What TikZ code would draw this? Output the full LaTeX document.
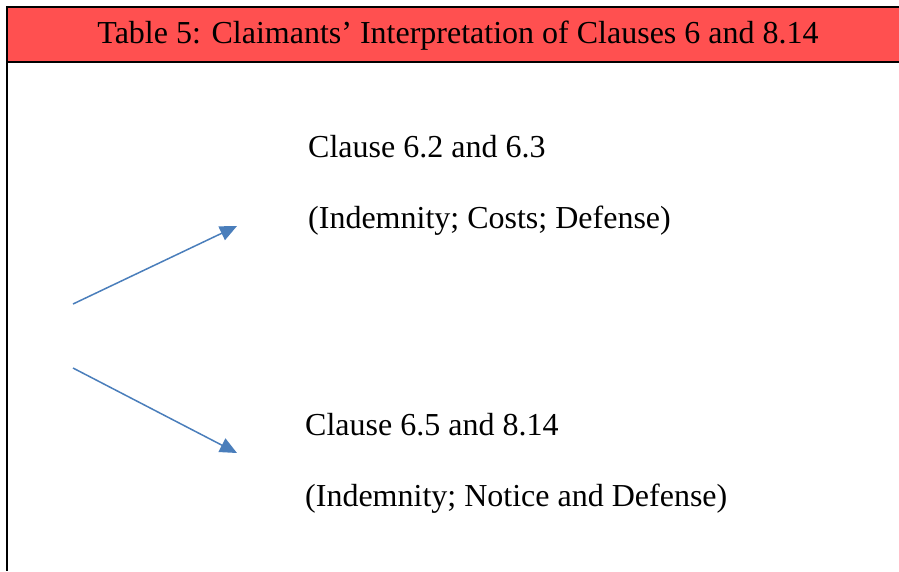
\documentclass[tikz,border=0pt]{standalone}
\usepackage{fontspec}
\setmainfont{Liberation Serif}
\usetikzlibrary{positioning}
\usetikzlibrary{arrows.meta}
\definecolor{headred}{HTML}{FF5050}
\definecolor{arrowblue}{HTML}{4A7EBB}
\tikzset{
	title/.style={inner sep=0pt, font=\fontsize{32}{38}\selectfont},
	clause/.style={anchor=base west, inner sep=0pt, font=\fontsize{32}{38}\selectfont},
}

\begin{document}
\begin{tikzpicture}[x=1pt, y=-1pt]
		\useasboundingbox (0,0) rectangle (899,571);
		
		% header band and frame
		\fill[headred] (7,7) rectangle (899,62);
		\draw[line width=2pt] (899,7) -- (7,7) -- (7,571);
		\draw[line width=2pt] (7,62) -- (899,62);
		
		\node (head) [title] at (458,36) {Table 5: Claimants’ Interpretation of Clauses 6 and 8.14};
		
		\node (upper) [clause] at (308,157) {Clause 6.2 and 6.3};
		\node (uppersub) [clause] at (308,228) {(Indemnity; Costs; Defense)};
		
		\node (lower) [clause] at (305,435) {Clause 6.5 and 8.14};
		\node (lowersub) [clause] at (305,506) {(Indemnity; Notice and Defense)};
		
		\coordinate (fork1) at (73,304);
		\coordinate (fork2) at (73,368);
		\coordinate (tip1) at (237,226);
		\coordinate (tip2) at (237,453);
		
		\begin{scope}[arrowblue, line width=1.5pt, -{Triangle[length=17pt, width=15pt]}]
			\draw (fork1) -- (tip1);
			\draw (fork2) -- (tip2);
		\end{scope}
	\end{tikzpicture}
\end{document}
